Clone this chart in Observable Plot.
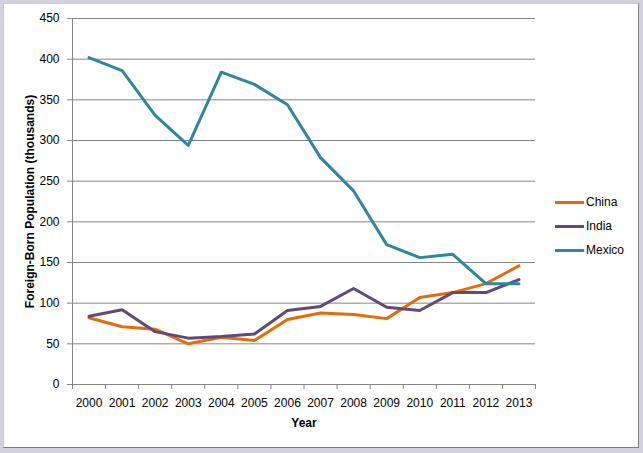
<!DOCTYPE html>
<html>
<head>
<meta charset="utf-8">
<script src="https://cdn.jsdelivr.net/npm/d3@7"></script>
<script src="https://cdn.jsdelivr.net/npm/@observablehq/plot@0.6"></script>
<style>
  html, body { margin: 0; padding: 0; background: #d3d1dc; }
  #wrap { position: relative; width: 643px; height: 453px; overflow: hidden; font-family: "Liberation Sans", Arial, sans-serif; }
  #frame { position: absolute; left: 3px; top: 3px; width: 634px; height: 443px; background: #fff;
           border-left: 1px solid #c9c9c9; border-top: 1px solid #c9c9c9; border-right: 1px solid #7f7f7f; border-bottom: 1px solid #7f7f7f; }
  #chart { position: absolute; left: 0; top: 0; }
  #legend { position: absolute; left: 555px; top: 190px; font-size: 12px; color: #000; }
  .item { display: flex; align-items: center; height: 24px; }
  .swatch { width: 29px; height: 3px; margin-right: 2px; }
</style>
</head>
<body>
<div id="wrap">
  <div id="frame"></div>
  <div id="chart"></div>
  <div id="legend"></div>
</div>
<script>
const years = [2000, 2001, 2002, 2003, 2004, 2005, 2006, 2007, 2008, 2009, 2010, 2011, 2012, 2013];
const china  = [82, 71, 68, 50, 58, 54, 80, 88, 86, 81, 107, 113, 124, 146];
const india  = [84, 92, 65, 57, 59, 62, 91, 96, 118, 95, 91, 113, 113, 129];
const mexico = [402, 386, 331, 294, 384, 369, 344, 279, 238, 172, 156, 160, 124, 124];
const seriesNames = ["China", "India", "Mexico"];
const seriesColors = ["#e46c0a", "#604a7b", "#31859c"];
const yTicks = [0, 50, 100, 150, 200, 250, 300, 350, 400, 450];

const rows = [];
[china, india, mexico].forEach((vals, s) => {
  vals.forEach((v, i) => rows.push({series: seriesNames[s], year: years[i], value: v}));
});
const bounds = years.map(y => y - 0.5).concat([years[years.length - 1] + 0.5]);
const grey = "#868686";

const chart = Plot.plot({
  width: 643,
  height: 453,
  marginLeft: 72,
  marginRight: 108,
  marginTop: 18,
  marginBottom: 69,
  style: {background: "transparent", fontFamily: "Liberation Sans, Arial, sans-serif", fontSize: "12px", color: "#000"},
  x: {domain: [bounds[0], bounds[bounds.length - 1]]},
  y: {domain: [0, 450]},
  color: {domain: seriesNames, range: seriesColors},
  marks: [
    Plot.gridY(yTicks.slice(1), {stroke: grey, strokeOpacity: 1}),
    Plot.ruleX([bounds[0]], {stroke: grey}),
    Plot.ruleY([0], {stroke: grey}),
    Plot.axisY({ticks: yTicks, tickSize: 5, tickPadding: 8, stroke: grey, strokeOpacity: 1, label: null, tickFormat: d => d}),
    Plot.axisX({ticks: bounds, tickSize: 5, tickFormat: () => "", stroke: grey, strokeOpacity: 1, label: null}),
    Plot.axisX({ticks: years, tickSize: 0, tickPadding: 14, tickFormat: d => String(d), label: null}),
    Plot.lineY(rows, {x: "year", y: "value", z: "series", stroke: "series", strokeWidth: 3, strokeLinejoin: "round"}),
    Plot.text(["Year"], {frameAnchor: "bottom", lineAnchor: "middle", dy: 39, fontWeight: "bold", fontSize: 12}),
    Plot.text(["Foreign-Born Population (thousands)"], {frameAnchor: "left", textAnchor: "middle", lineAnchor: "middle", rotate: -90, dx: -42, fontWeight: "bold", fontSize: 12})
  ]
});
document.getElementById("chart").appendChild(chart);

const legend = document.getElementById("legend");
seriesNames.forEach((n, i) => {
  const item = document.createElement("div");
  item.className = "item";
  const sw = document.createElement("div");
  sw.className = "swatch";
  sw.style.background = seriesColors[i];
  const t = document.createElement("span");
  t.textContent = n;
  item.appendChild(sw);
  item.appendChild(t);
  legend.appendChild(item);
});
</script>
</body>
</html>
